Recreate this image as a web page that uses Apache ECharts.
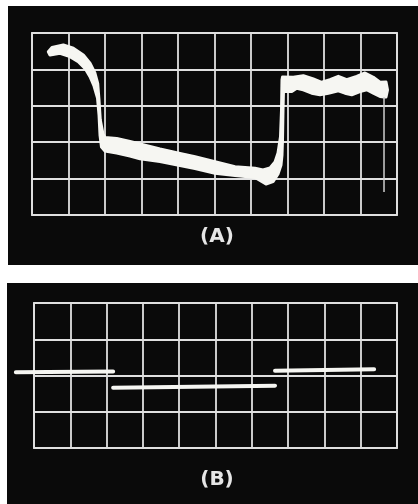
<!DOCTYPE html>
<html>
<head>
<meta charset="utf-8">
<script src="https://cdn.jsdelivr.net/npm/echarts@6/dist/echarts.min.js"></script>
<style>
html,body{margin:0;padding:0;background:#fff;}
#chart{width:418px;height:504px;}
</style>
</head>
<body>
<div id="chart"></div>
<script>
// ---- Panel A trace: a thick band, outline in grid divisions (x: 0..10, y: 0..5) ----
// upper/left outline, left -> right
const traceATopX = [0.447, 0.548, 0.858, 1.132, 1.405, 1.589, 1.726, 1.800, 1.836, 1.871, 1.945, 2.000, 2.321, 2.685, 2.959, 3.507, 4.055, 4.466, 5.014, 5.562, 6.110, 6.329, 6.521, 6.658, 6.740, 6.808, 6.836, 6.849, 6.863, 7.159, 7.433, 7.707, 7.937, 8.164, 8.392, 8.622, 8.896, 9.123, 9.351, 9.534, 9.699, 9.740, 9.699];
const traceATopY = [4.486, 4.602, 4.670, 4.580, 4.396, 4.168, 3.893, 3.618, 3.159, 2.610, 2.225, 2.129, 2.102, 2.019, 1.951, 1.813, 1.690, 1.602, 1.464, 1.327, 1.283, 1.236, 1.291, 1.456, 1.703, 2.151, 2.885, 3.709, 3.791, 3.783, 3.827, 3.736, 3.646, 3.717, 3.810, 3.717, 3.810, 3.901, 3.783, 3.646, 3.654, 3.434, 3.242];
// lower/right outline, right -> left
const traceABottomX = [9.644, 9.534, 9.351, 9.170, 8.986, 8.759, 8.575, 8.392, 8.118, 7.890, 7.663, 7.433, 7.252, 7.115, 6.890, 6.877, 6.863, 6.849, 6.822, 6.740, 6.603, 6.411, 6.110, 5.562, 5.014, 4.466, 4.055, 3.507, 2.959, 2.685, 2.321, 2.000, 1.904, 1.863, 1.836, 1.795, 1.699, 1.589, 1.452, 1.268, 1.041, 0.767, 0.493];
const traceABottomY = [3.242, 3.255, 3.346, 3.440, 3.393, 3.302, 3.346, 3.412, 3.346, 3.302, 3.346, 3.440, 3.484, 3.393, 3.393, 2.885, 2.060, 1.648, 1.374, 1.126, 0.915, 0.852, 1.030, 1.085, 1.146, 1.277, 1.360, 1.470, 1.545, 1.621, 1.703, 1.758, 1.868, 2.198, 2.747, 3.214, 3.544, 3.799, 4.030, 4.212, 4.349, 4.442, 4.396];
// thin retrace line at the right end of trace A
const traceATailX = [9.644, 9.644];
const traceATailY = [3.24, 0.63];

// ---- Panel B: three flat steps (x: 0..10, y: 0..4) ----
const stepsBStartX = [-0.5, 2.18, 6.64];
const stepsBStartY = [2.09, 1.66, 2.13];
const stepsBEndX = [2.18, 6.64, 9.37];
const stepsBEndY = [2.11, 1.72, 2.17];

const labelA = '(A)';
const labelB = '(B)';

function pairs(xs, ys) { return xs.map((x, i) => [x, ys[i]]); }

const bandPoints = pairs(traceATopX, traceATopY).concat(pairs(traceABottomX, traceABottomY));
const stepsB = stepsBStartX.map((x, i) => [x, stepsBStartY[i], stepsBEndX[i], stepsBEndY[i]]);

const gridColor = '#e0e0e0';
const traceColor = '#f6f6f2';

function xAx(gi) {
  return {
    gridIndex: gi, type: 'value', min: 0, max: 10, interval: 1,
    axisLine: { show: false }, axisTick: { show: false }, axisLabel: { show: false },
    splitLine: { show: true, lineStyle: { color: gridColor, width: 1.8 } }
  };
}
function yAx(gi, max) {
  return {
    gridIndex: gi, type: 'value', min: 0, max: max, interval: 1,
    axisLine: { show: false }, axisTick: { show: false }, axisLabel: { show: false },
    splitLine: { show: true, lineStyle: { color: gridColor, width: 1.8 } }
  };
}

const chart = echarts.init(document.getElementById('chart'));
chart.setOption({
  backgroundColor: '#ffffff',
  animation: false,
  graphic: [
    { type: 'rect', z: -10, shape: { x: 8, y: 6, width: 410, height: 259 }, style: { fill: '#0a0a0a' } },
    { type: 'rect', z: -10, shape: { x: 7, y: 283, width: 411, height: 221 }, style: { fill: '#0a0a0a' } },
    { type: 'text', x: 217, y: 237, style: { text: labelA, fill: '#e6e6e6', font: 'bold 20px "DejaVu Sans"', textAlign: 'center', textVerticalAlign: 'middle' } },
    { type: 'text', x: 217, y: 480, style: { text: labelB, fill: '#e6e6e6', font: 'bold 20px "DejaVu Sans"', textAlign: 'center', textVerticalAlign: 'middle' } }
  ],
  grid: [
    { left: 32, top: 33, width: 365, height: 182, show: true, borderColor: gridColor, borderWidth: 1.8, backgroundColor: 'transparent' },
    { left: 34, top: 303, width: 363, height: 145, show: true, borderColor: gridColor, borderWidth: 1.8, backgroundColor: 'transparent' }
  ],
  xAxis: [xAx(0), xAx(1)],
  yAxis: [yAx(0, 5), yAx(1, 4)],
  series: [
    {
      type: 'custom', xAxisIndex: 0, yAxisIndex: 0, clip: false, z: 5,
      data: bandPoints,
      renderItem: function (params, api) {
        if (params.dataIndex !== 0) return null;
        const pts = bandPoints.map(p => api.coord(p));
        return {
          type: 'polygon',
          shape: { points: pts, smooth: 0 },
          style: { fill: traceColor, stroke: traceColor, lineWidth: 3, lineJoin: 'round' }
        };
      }
    },
    {
      type: 'line', xAxisIndex: 0, yAxisIndex: 0, data: pairs(traceATailX, traceATailY),
      showSymbol: false, lineStyle: { color: '#cfcfcf', width: 1.5 }, z: 5
    },
    {
      type: 'custom', xAxisIndex: 1, yAxisIndex: 1, clip: false, z: 5,
      data: stepsB,
      renderItem: function (params, api) {
        const a = api.coord([api.value(0), api.value(1)]);
        const b = api.coord([api.value(2), api.value(3)]);
        return {
          type: 'line',
          shape: { x1: a[0], y1: a[1], x2: b[0], y2: b[1] },
          style: { stroke: traceColor, lineWidth: 4, lineCap: 'round' }
        };
      }
    }
  ]
});
</script>
</body>
</html>
